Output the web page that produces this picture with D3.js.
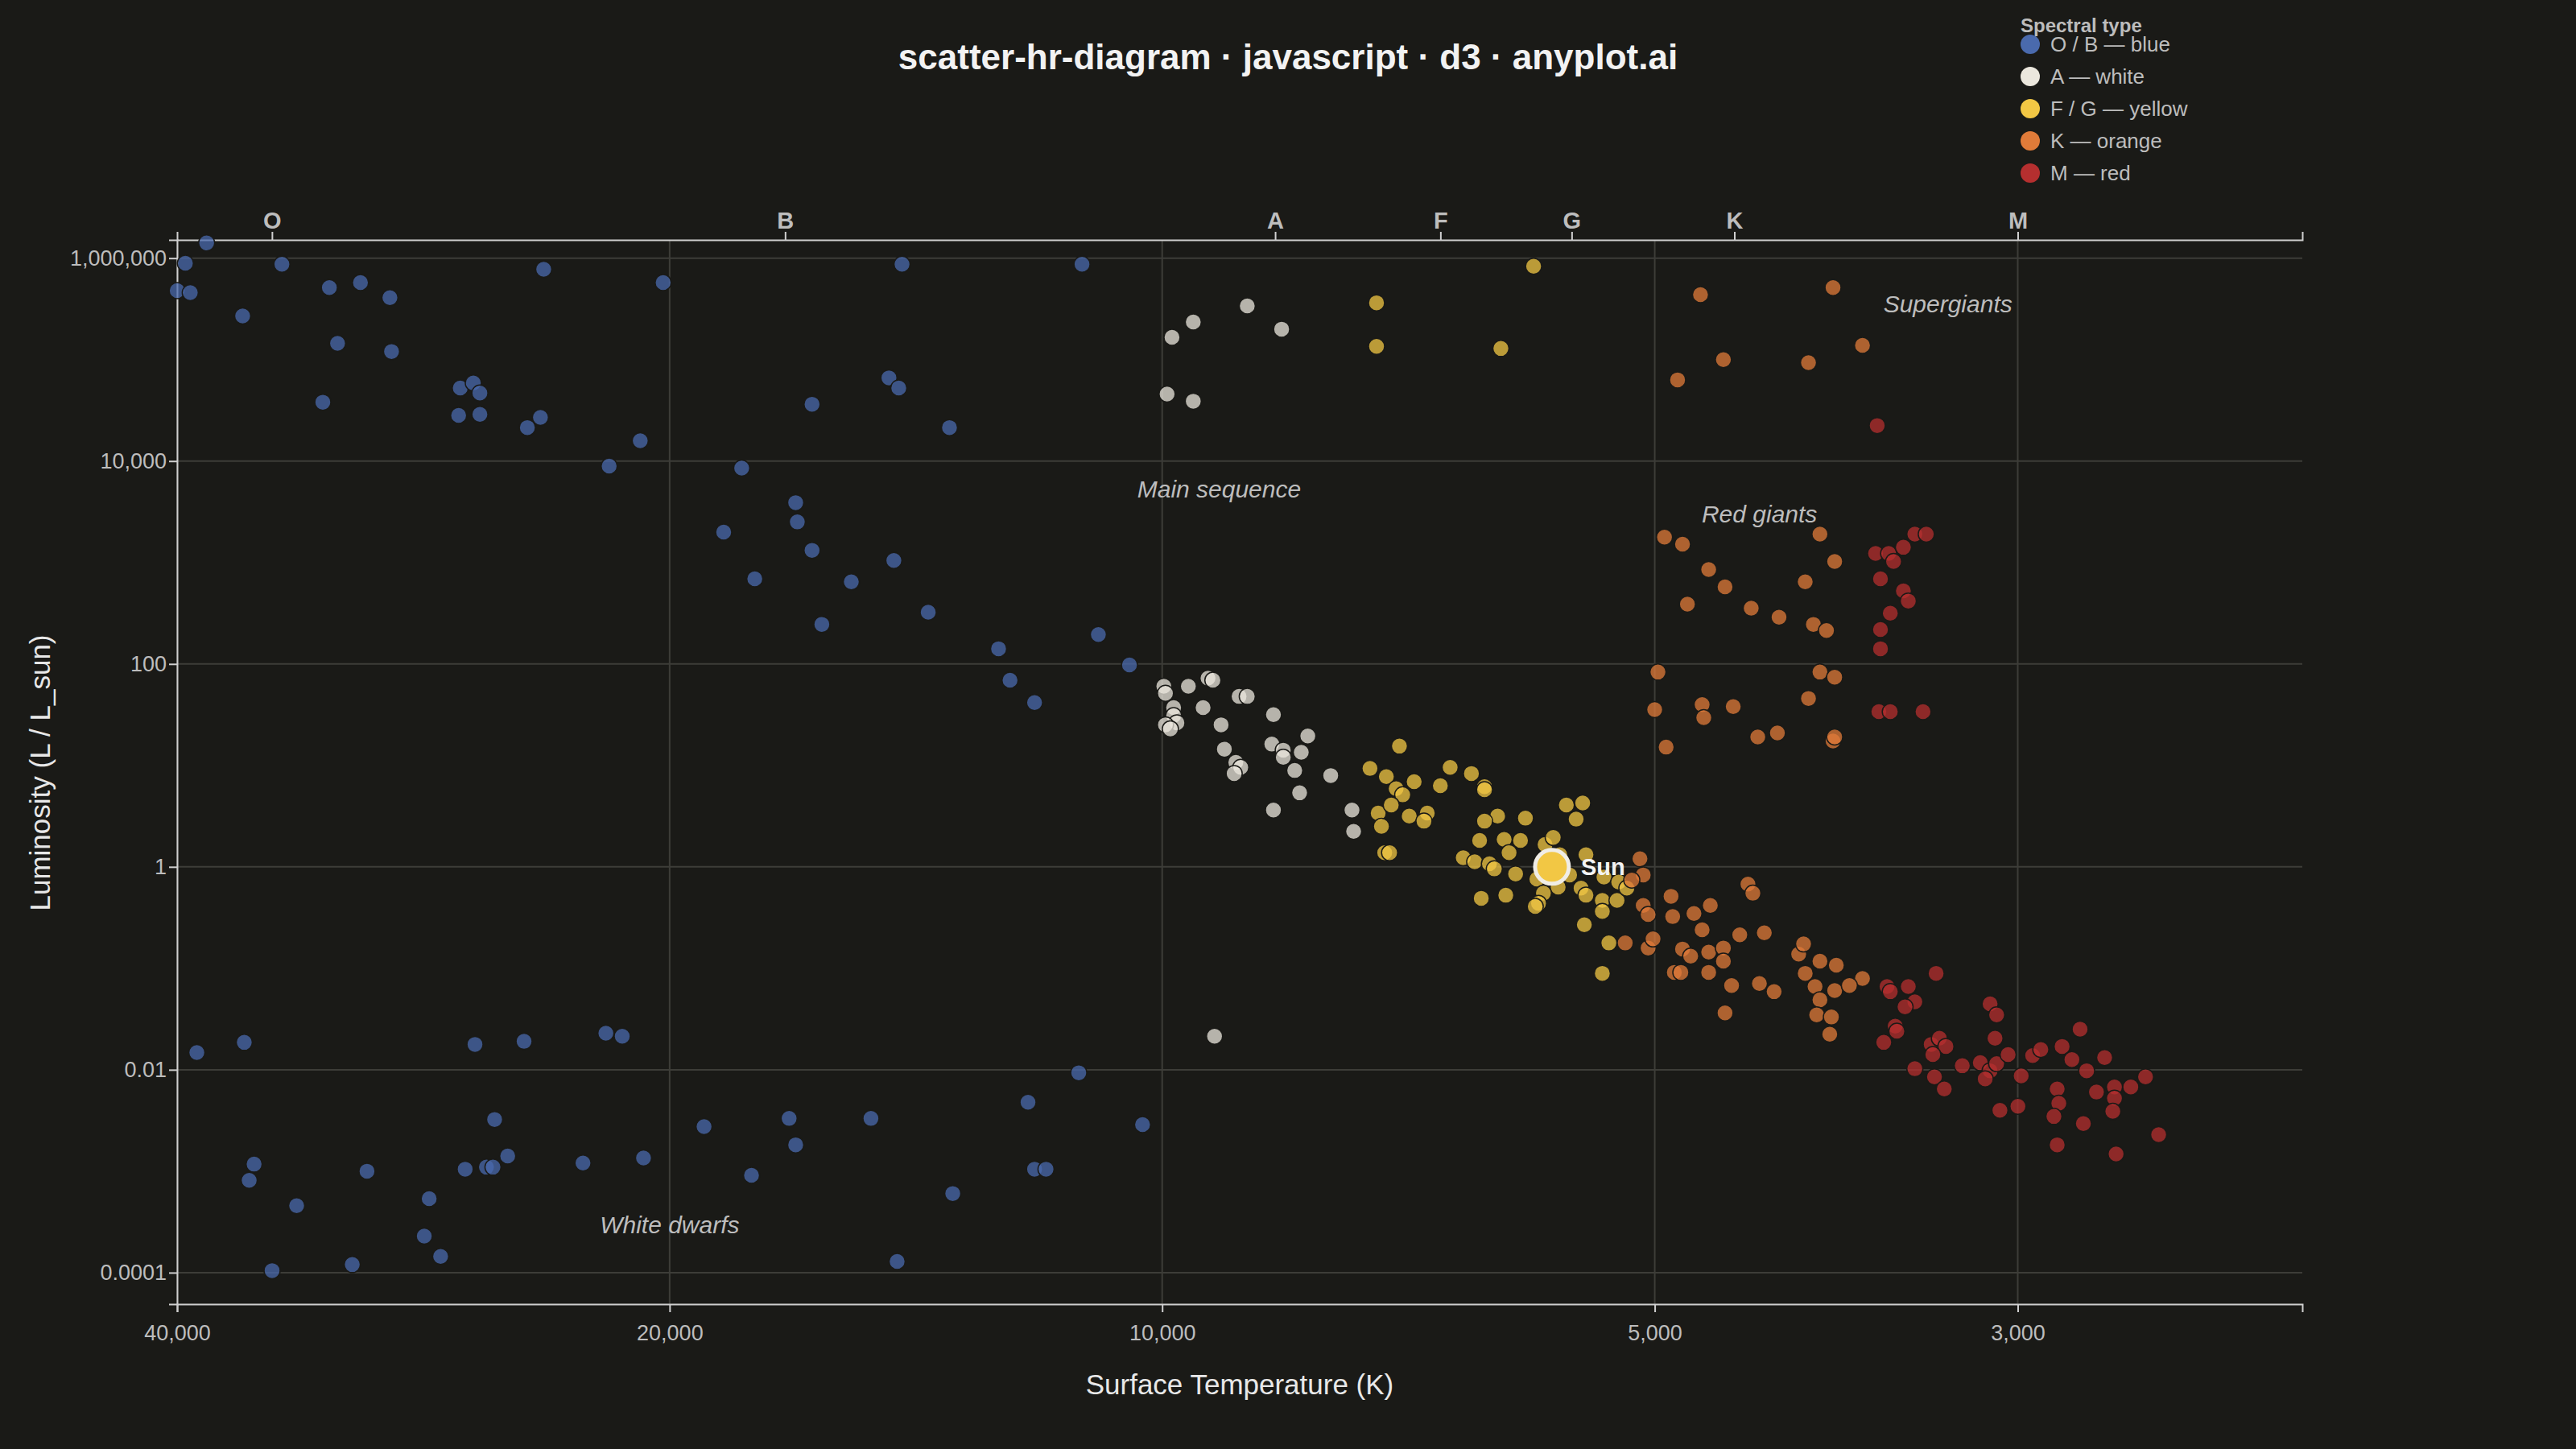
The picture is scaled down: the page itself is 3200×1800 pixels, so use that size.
<!DOCTYPE html>
<html>
<head>
<meta charset="utf-8">
<script src="https://cdn.jsdelivr.net/npm/d3@7"></script>
<style>
  body { margin: 0; background: #1a1a17; }
  text { font-family: "Liberation Sans", Arial, sans-serif; }
</style>
</head>
<body>
<svg id="chart" width="3200" height="1800"></svg>
<script>
// star samples: [log10 T (K), log10 L (L_sun)]
const blueStars = [
  [4.584,6.15],[4.597,5.95],[4.602,5.68],[4.594,5.66],[4.538,5.94],[4.562,5.43],[4.509,5.71],[4.490,5.76],
  [4.472,5.61],[4.504,5.16],[4.471,5.08],[4.513,4.58],[4.429,4.72],[4.421,4.77],[4.417,4.67],[4.430,4.45],
  [4.417,4.46],[4.378,5.89],[4.305,5.76],[4.159,5.94],[4.049,5.94],[4.388,4.33],[4.380,4.43],[4.319,4.20],
  [4.338,3.95],[4.214,4.56],[4.167,4.82],[4.161,4.72],[4.130,4.33],[4.257,3.93],[4.268,3.30],[4.224,3.59],
  [4.223,3.40],[4.214,3.12],[4.249,2.84],[4.190,2.81],[4.164,3.02],[4.208,2.39],[4.143,2.51],[4.100,2.15],
  [4.093,1.84],[4.078,1.62],[4.039,2.29],[4.020,1.99],
  // white dwarfs
  [4.590,-1.83],[4.561,-1.73],[4.555,-2.93],[4.558,-3.09],[4.529,-3.34],[4.544,-3.98],[4.495,-3.92],[4.486,-3.00],
  [4.448,-3.27],[4.451,-3.64],[4.441,-3.84],[4.426,-2.98],[4.420,-1.75],[4.413,-2.96],[4.409,-2.96],[4.408,-2.49],
  [4.400,-2.85],[4.390,-1.72],[4.354,-2.92],[4.340,-1.64],[4.330,-1.67],[4.317,-2.87],[4.280,-2.56],[4.251,-3.04],
  [4.228,-2.48],[4.224,-2.74],[4.178,-2.48],[4.162,-3.89],[4.128,-3.22],[4.082,-2.32],[4.078,-2.98],[4.071,-2.98],
  [4.051,-2.03],[4.012,-2.54]
];
const whiteStars = [
  [3.994,5.22],[3.981,5.37],[3.948,5.53],[3.927,5.30],[3.997,4.66],[3.981,4.59],
  [3.999,1.78],[3.998,1.71],[3.984,1.78],[3.972,1.86],[3.969,1.84],[3.993,1.57],[3.993,1.49],[3.991,1.42],
  [3.998,1.40],[3.995,1.36],[3.975,1.57],[3.964,1.40],[3.953,1.68],[3.948,1.68],[3.932,1.50],[3.911,1.29],
  [3.962,1.16],[3.933,1.21],[3.926,1.15],[3.926,1.08],[3.915,1.13],[3.955,1.03],[3.952,0.98],[3.956,0.92],
  [3.919,0.95],[3.897,0.90],[3.916,0.73],[3.932,0.56],[3.884,0.56],[3.883,0.35],[3.968,-1.67]
];
const yellowStars = [
  [3.869,5.56],[3.773,5.92],[3.869,5.13],[3.793,5.11],
  [3.855,1.19],[3.873,0.97],[3.863,0.89],[3.846,0.84],[3.824,0.98],[3.811,0.92],[3.857,0.77],[3.830,0.80],
  [3.803,0.79],[3.803,0.76],[3.853,0.71],[3.868,0.53],[3.860,0.61],[3.849,0.50],[3.838,0.53],[3.840,0.45],
  [3.866,0.40],[3.795,0.50],[3.778,0.48],[3.803,0.45],[3.753,0.61],[3.743,0.63],[3.747,0.47],[3.864,0.14],
  [3.861,0.14],[3.806,0.26],[3.791,0.27],[3.781,0.26],[3.766,0.22],[3.761,0.29],[3.816,0.09],[3.809,0.05],
  [3.800,0.03],[3.788,0.14],[3.757,0.12],[3.741,0.12],[3.797,-0.02],[3.784,-0.07],[3.771,-0.12],[3.758,-0.20],
  [3.751,-0.08],[3.744,-0.21],[3.730,-0.10],[3.721,-0.15],[3.767,-0.26],[3.770,-0.36],[3.772,-0.39],[3.790,-0.28],
  [3.805,-0.31],[3.741,-0.28],[3.731,-0.33],[3.722,-0.33],[3.716,-0.21],[3.742,-0.57],[3.731,-0.44],[3.727,-0.75],
  [3.731,-1.05]
];
const orangeStars = [
  [3.671,5.64],[3.590,5.71],[3.657,5.00],[3.605,4.97],[3.572,5.14],[3.685,4.80],
  [3.693,3.25],[3.682,3.18],[3.598,3.28],[3.666,2.93],[3.656,2.76],[3.589,3.01],[3.607,2.81],[3.679,2.59],
  [3.640,2.55],[3.623,2.46],[3.602,2.39],[3.594,2.33],[3.697,1.92],[3.598,1.92],[3.589,1.87],[3.699,1.55],
  [3.670,1.60],[3.669,1.47],[3.651,1.58],[3.605,1.66],[3.624,1.32],[3.636,1.28],[3.590,1.24],[3.589,1.28],
  [3.692,1.18],
  [3.708,0.08],[3.706,-0.08],[3.713,-0.13],[3.689,-0.29],[3.706,-0.38],[3.703,-0.47],[3.688,-0.49],[3.675,-0.46],
  [3.665,-0.38],[3.642,-0.17],[3.639,-0.26],[3.717,-0.75],[3.703,-0.80],[3.700,-0.71],[3.670,-0.62],[3.647,-0.67],
  [3.632,-0.65],[3.682,-0.81],[3.677,-0.88],[3.666,-0.84],[3.657,-0.80],[3.657,-0.93],[3.687,-1.04],[3.683,-1.04],
  [3.666,-1.04],[3.652,-1.17],[3.635,-1.15],[3.626,-1.23],[3.611,-0.86],[3.608,-0.76],[3.598,-0.93],[3.588,-0.97],
  [3.607,-1.05],[3.601,-1.18],[3.589,-1.22],[3.572,-1.10],[3.580,-1.17],[3.598,-1.31],[3.600,-1.46],[3.591,-1.48],
  [3.592,-1.65],[3.656,-1.44]
];
const redStars = [
  [3.563,4.35],
  [3.564,3.09],[3.556,3.09],[3.553,3.01],[3.547,3.15],[3.540,3.28],[3.533,3.28],[3.561,2.84],[3.547,2.72],
  [3.544,2.62],[3.555,2.50],[3.561,2.34],[3.561,2.15],[3.562,1.53],[3.555,1.53],[3.535,1.53],
  [3.557,-1.18],[3.555,-1.23],[3.544,-1.18],[3.540,-1.33],[3.546,-1.38],[3.527,-1.05],[3.552,-1.57],[3.551,-1.62],
  [3.559,-1.73],[3.530,-1.75],[3.525,-1.69],[3.521,-1.77],[3.529,-1.85],[3.540,-1.99],[3.528,-2.07],[3.522,-2.19],
  [3.511,-1.96],[3.500,-1.93],[3.494,-2.01],[3.490,-1.94],[3.497,-2.09],[3.494,-1.35],[3.490,-1.46],[3.491,-1.69],
  [3.483,-1.85],[3.475,-2.06],[3.468,-1.86],[3.463,-1.80],[3.450,-1.77],[3.444,-1.90],[3.439,-1.60],[3.435,-2.01],
  [3.424,-1.88],[3.429,-2.22],[3.418,-2.17],[3.418,-2.28],[3.408,-2.17],[3.399,-2.07],[3.453,-2.19],[3.452,-2.33],
  [3.455,-2.46],[3.477,-2.36],[3.488,-2.40],[3.437,-2.53],[3.419,-2.41],[3.453,-2.74],[3.417,-2.83],[3.391,-2.64]
];
const sun = { temp: 5778, lum: 1 };

const groupNames = ["O / B — blue", "A — white", "F / G — yellow", "K — orange", "M — red"];
const groupColors = ["#4a6aad", "#ebe7dd", "#f2c744", "#e07b39", "#b52f2f"];
const groups = [blueStars, whiteStars, yellowStars, orangeStars, redStars];

const classLetters = ["O", "B", "A", "F", "G", "K", "M"];
const classTemps = [35000, 17000, 8530, 6760, 5620, 4470, 3000];
const tempTicks = [40000, 20000, 10000, 5000, 3000];
const lumTicks = [1e6, 1e4, 100, 1, 0.01, 1e-4];
const lumLabels = ["1,000,000", "10,000", "100", "1", "0.01", "0.0001"];

const annotations = [
  { text: "Supergiants", temp: 3310, lum: 2.9e5 },
  { text: "Main sequence", temp: 9230, lum: 4400 },
  { text: "Red giants", temp: 4315, lum: 2500 },
  { text: "White dwarfs", temp: 20000, lum: 2.45e-4 }
];

const svg = d3.select("#chart");
const W = 3200, H = 1800;
const margin = { left: 220, right: 340, top: 298, bottom: 180 };

svg.append("rect").attr("width", W).attr("height", H).attr("fill", "#1a1a17");

const x = d3.scaleLog().domain([40000, 2010]).range([margin.left, W - margin.right]);
const y = d3.scaleLog().domain([Math.pow(10, -4.31), Math.pow(10, 6.18)]).range([H - margin.bottom, margin.top]);

// grid
svg.append("g").selectAll("line").data(tempTicks).join("line")
  .attr("x1", d => x(d)).attr("x2", d => x(d))
  .attr("y1", margin.top).attr("y2", H - margin.bottom)
  .attr("stroke", "#3d3d38").attr("stroke-width", 2);
svg.append("g").selectAll("line").data(lumTicks).join("line")
  .attr("x1", margin.left).attr("x2", W - margin.right)
  .attr("y1", d => y(d)).attr("y2", d => y(d))
  .attr("stroke", "#3d3d38").attr("stroke-width", 2);

// axes
const axisColor = "#cfcfcf";
const bottomAxis = svg.append("g").attr("transform", `translate(0,${H - margin.bottom})`)
  .call(d3.axisBottom(x).tickValues(tempTicks).tickFormat(d3.format(",")).tickSize(10).tickSizeOuter(10));
const leftAxis = svg.append("g").attr("transform", `translate(${margin.left},0)`)
  .call(d3.axisLeft(y).tickValues(lumTicks).tickFormat((d, i) => lumLabels[i]).tickSize(10).tickSizeOuter(10));
const topAxis = svg.append("g").attr("transform", `translate(0,${margin.top})`)
  .call(d3.axisTop(x).tickValues(classTemps).tickFormat((d, i) => classLetters[i]).tickSize(10).tickSizeOuter(10));
[bottomAxis, leftAxis, topAxis].forEach(g => {
  g.selectAll("path,line").attr("stroke", axisColor).attr("stroke-width", 2);
  g.selectAll("text").attr("fill", "#bdbdbd").attr("font-size", 27);
});
topAxis.selectAll("text").attr("font-weight", "bold").attr("font-size", 29).attr("dy", "-0.05em");
bottomAxis.selectAll("text").attr("dy", "1.2em");

// points
groups.forEach((g, i) => {
  svg.append("g").selectAll("circle").data(g).join("circle")
    .attr("cx", d => x(Math.pow(10, d[0])))
    .attr("cy", d => y(Math.pow(10, d[1])))
    .attr("r", 10)
    .attr("fill", groupColors[i])
    .attr("fill-opacity", 0.75)
    .attr("stroke", "#1a1a17")
    .attr("stroke-width", 1.5);
});

// sun
svg.append("circle").attr("cx", x(sun.temp)).attr("cy", y(sun.lum)).attr("r", 21)
  .attr("fill", "#f2c744").attr("stroke", "#f0ede6").attr("stroke-width", 5);
svg.append("text").attr("x", x(sun.temp) + 36).attr("y", y(sun.lum) + 10)
  .attr("fill", "#f4f4f4").attr("font-size", 29).attr("font-weight", "bold").text("Sun");

// annotations
svg.append("g").selectAll("text").data(annotations).join("text")
  .attr("x", d => x(d.temp)).attr("y", d => y(d.lum))
  .attr("text-anchor", "middle")
  .attr("fill", "#bdbdbd").attr("font-size", 30).attr("font-style", "italic")
  .text(d => d.text);

// title and axis labels
svg.append("text").attr("x", 1600).attr("y", 86).attr("text-anchor", "middle")
  .attr("fill", "#f2f2f2").attr("font-size", 44).attr("font-weight", "bold")
  .text("scatter-hr-diagram · javascript · d3 · anyplot.ai");
svg.append("text").attr("x", 1540).attr("y", 1732).attr("text-anchor", "middle")
  .attr("fill", "#e8e8e8").attr("font-size", 35).text("Surface Temperature (K)");
svg.append("text").attr("transform", `translate(62,960) rotate(-90)`).attr("text-anchor", "middle")
  .attr("fill", "#e8e8e8").attr("font-size", 35).text("Luminosity (L / L_sun)");

// legend
const legend = svg.append("g").attr("transform", "translate(2510,0)");
legend.append("text").attr("x", 0).attr("y", 40).attr("fill", "#bdbdbd")
  .attr("font-size", 24).attr("font-weight", "bold").text("Spectral type");
groupNames.forEach((name, i) => {
  const yy = 55 + i * 40;
  legend.append("circle").attr("cx", 12).attr("cy", yy).attr("r", 12).attr("fill", groupColors[i]);
  legend.append("text").attr("x", 37).attr("y", yy + 9).attr("fill", "#bdbdbd")
    .attr("font-size", 26).text(name);
});
</script>
</body>
</html>
